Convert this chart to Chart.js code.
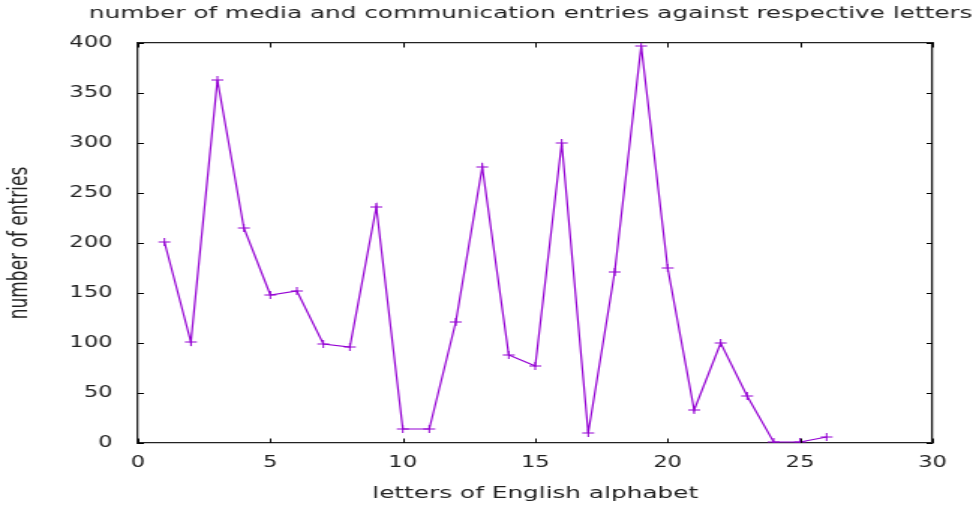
<!DOCTYPE html>
<html>
<head>
<meta charset="utf-8">
<script src="https://cdn.jsdelivr.net/npm/chart.js@4/dist/chart.umd.min.js"></script>
<style>
  html, body { margin: 0; padding: 0; background: #fff; }
</style>
</head>
<body>
<!-- the reference is stretched sideways about 1.5x, so the canvas is drawn narrow and scaled -->
<canvas id="grafico" width="653" height="510" style="display:block;width:979px;height:510px"></canvas>
<script>
// letter number (A = 1 ... Z = 26) and how many entries each one has
const letras = [1, 2, 3, 4, 5, 6, 7, 8, 9, 10, 11, 12, 13, 14, 15, 16, 17, 18, 19, 20, 21, 22, 23, 24, 25, 26];
const entradas = [201, 101, 363, 215, 148, 152, 99, 96, 236, 14, 14, 121, 276, 88, 77, 300, 10, 171, 397, 175, 33, 100, 47, 1, 1, 6];

const xMin = 0, xMax = 30, xPasso = 5;
const yMin = 0, yMax = 400, yPasso = 50;

const titulo = 'number of media and communication entries against respective letters';
const tituloX = 'letters of English alphabet';
const tituloY = 'number of entries';

const pontos = letras.map((l, i) => ({ x: l, y: entradas[i] }));

const fonte = 'DejaVu Sans';
const corTexto = '#222';

const grade = { drawOnChartArea: false, drawTicks: false };
const borda = { display: true, color: '#222', width: 1.3 };

// keep the title centred over the plot area, like gnuplot does
const centraTitulo = {
  id: 'centraTitulo',
  beforeDraw(chart) {
    const tb = chart.titleBlock;
    if (!tb) return;
    const alvo = (chart.chartArea.left + chart.chartArea.right) / 2 - 3;
    const d = alvo - (tb.left + tb.right) / 2;
    tb.left += d;
    tb.right += d;
  }
};

// gnuplot style: short ticks pointing into the plot on all four sides
const ticksDentro = {
  id: 'ticksDentro',
  afterDraw(chart) {
    const { ctx, chartArea: a, scales } = chart;
    ctx.save();
    ctx.strokeStyle = '#000';
    ctx.lineWidth = 1;
    ctx.beginPath();
    scales.x.ticks.forEach(t => {
      const px = Math.round(scales.x.getPixelForValue(t.value)) + 0.5;
      ctx.moveTo(px, a.bottom); ctx.lineTo(px, a.bottom - 4.5);
      ctx.moveTo(px, a.top); ctx.lineTo(px, a.top + 4.5);
    });
    scales.y.ticks.forEach(t => {
      const py = Math.round(scales.y.getPixelForValue(t.value)) + 0.5;
      ctx.moveTo(a.left, py); ctx.lineTo(a.left + 4, py);
      ctx.moveTo(a.right, py); ctx.lineTo(a.right - 4, py);
    });
    ctx.stroke();
    ctx.restore();
  }
};

const ctx = document.getElementById('grafico').getContext('2d');
new Chart(ctx, {
  type: 'line',
  data: {
    datasets: [{
      data: pontos,
      borderColor: '#9400d3',
      backgroundColor: '#9400d3',
      borderWidth: 1.2,
      fill: false,
      tension: 0,
      pointStyle: 'cross',
      pointRadius: 4,
      pointBorderWidth: 1,
      pointBorderColor: '#9400d3'
    }]
  },
  options: {
    responsive: false,
    devicePixelRatio: 1,
    animation: false,
    layout: { padding: 0 },
    plugins: {
      legend: { display: false },
      tooltip: { enabled: false },
      title: {
        display: true,
        text: titulo,
        color: corTexto,
        font: { family: fonte, size: 16.5, weight: 'normal' },
        padding: { top: 4, bottom: 0 }
      }
    },
    scales: {
      x: {
        type: 'linear',
        position: 'bottom',
        min: xMin, max: xMax,
        ticks: { stepSize: xPasso, padding: 11, color: corTexto, font: { family: fonte, size: 15 } },
        grid: grade,
        border: borda,
        title: {
          display: true,
          text: tituloX,
          color: corTexto,
          font: { family: fonte, size: 16.5 },
          padding: { top: 0, bottom: 6 }
        },
        afterFit(s) { s.height = 67; }
      },
      x2: {
        type: 'linear',
        position: 'top',
        min: xMin, max: xMax,
        ticks: { stepSize: xPasso, display: false },
        grid: grade,
        border: borda,
        afterFit(s) { s.height = 19.2; }
      },
      y: {
        type: 'linear',
        position: 'left',
        min: yMin, max: yMax,
        ticks: { stepSize: yPasso, padding: 17, color: corTexto, font: { family: fonte, size: 15 } },
        grid: grade,
        border: borda,
        title: {
          display: true,
          text: tituloY,
          color: corTexto,
          font: { family: fonte, size: 17 },
          padding: { top: 3, bottom: 0 }
        },
        afterFit(s) { s.width = 92; }
      },
      y2: {
        type: 'linear',
        position: 'right',
        min: yMin, max: yMax,
        ticks: { stepSize: yPasso, display: false },
        grid: grade,
        border: borda,
        afterFit(s) { s.width = 31; }
      }
    }
  },
  plugins: [centraTitulo, ticksDentro]
});
</script>
</body>
</html>
